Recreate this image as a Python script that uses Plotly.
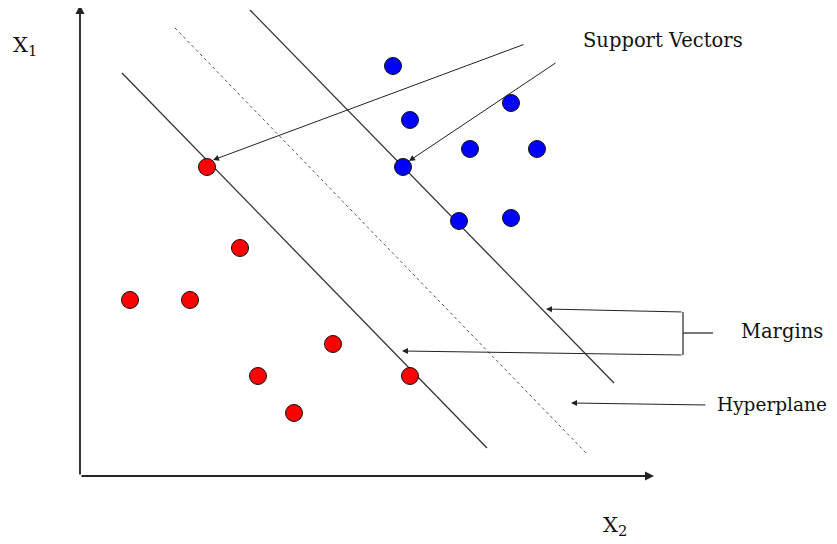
import plotly.graph_objects as go

# Data (diagram coordinates: x to the right, y downward)
red_x = [207, 240, 130, 190, 333, 258, 410, 294]
red_y = [167, 248, 300, 300, 344, 376, 376, 413]
blue_x = [393, 511, 410, 470, 537, 403, 459, 511]
blue_y = [66, 103, 120, 149, 149, 167, 221, 218]

margin_low_x = [122, 487]
margin_low_y = [73, 448]
hyper_x = [175, 588]
hyper_y = [28, 455]
margin_high_x = [250, 614]
margin_high_y = [10, 383]

FONT = "DejaVu Serif"
OFF = 8  # page body margin
W, H = 837, 544

fig = go.Figure()
line_style = dict(color="#333333", width=1.3)
fig.add_trace(go.Scatter(x=margin_low_x, y=margin_low_y, mode="lines", line=line_style, hoverinfo="skip"))
fig.add_trace(go.Scatter(x=margin_high_x, y=margin_high_y, mode="lines", line=line_style, hoverinfo="skip"))
fig.add_trace(go.Scatter(x=hyper_x, y=hyper_y, mode="lines",
                         line=dict(color="#555555", width=1, dash="dot"), hoverinfo="skip"))

# Margins bracket lines
fig.add_trace(go.Scatter(x=[683, 683], y=[312, 355], mode="lines", line=dict(color="#222222", width=1.2), hoverinfo="skip"))
fig.add_trace(go.Scatter(x=[683, 713], y=[333, 333], mode="lines", line=dict(color="#222222", width=1.2), hoverinfo="skip"))

fig.add_trace(go.Scatter(x=red_x, y=red_y, mode="markers",
                         marker=dict(size=17, color="#ff0000", line=dict(color="#111111", width=1)), hoverinfo="skip"))
fig.add_trace(go.Scatter(x=blue_x, y=blue_y, mode="markers",
                         marker=dict(size=17, color="#0000ff", line=dict(color="#111111", width=1)), hoverinfo="skip"))

def arrow(x0, y0, x1, y1, width=1.2, head=2, size=1.0):
    fig.add_annotation(x=x1, y=y1, ax=x0, ay=y0, xref="x", yref="y", axref="x", ayref="y",
                       showarrow=True, arrowhead=head, arrowsize=size, arrowwidth=width,
                       arrowcolor="#222222", text="")

# Axes
arrow(80, 476, 80, 5, width=1.8, head=2, size=1.0)
arrow(80, 476, 654, 476, width=1.8, head=2, size=1.0)
# Support vector arrows
arrow(525, 44, 213, 160, width=1.0, head=2, size=1.2)
arrow(557, 62, 409, 161, width=1.0, head=2, size=1.2)
# Margins arrows
arrow(683, 312, 546, 309, width=1.0, head=2, size=1.2)
arrow(683, 355, 402, 351, width=1.0, head=2, size=1.2)
# Hyperplane arrow
arrow(707, 405, 571, 403, width=1.0, head=2, size=1.2)

def label(x, y, text, size=19.5, anchor="left"):
    fig.add_annotation(x=x, y=y, xref="x", yref="y", text=text, showarrow=False,
                       xanchor=anchor, yanchor="middle",
                       font=dict(family=FONT, size=size, color="#111111"))

label(581, 40, "Support Vectors")
label(739, 331, "Margins")
label(715, 404, "Hyperplane", size=18.5)
label(11, 46, "X<sub>1</sub>", size=21)
label(601, 526, "X<sub>2</sub>", size=21)

fig.update_layout(
    width=W - OFF, height=H - OFF, margin=dict(l=0, r=0, t=0, b=0),
    paper_bgcolor="white", plot_bgcolor="white", showlegend=False,
    xaxis=dict(range=[OFF, W], visible=False, fixedrange=True),
    yaxis=dict(range=[H, OFF], visible=False, fixedrange=True),
)
fig.write_html("out.html")
